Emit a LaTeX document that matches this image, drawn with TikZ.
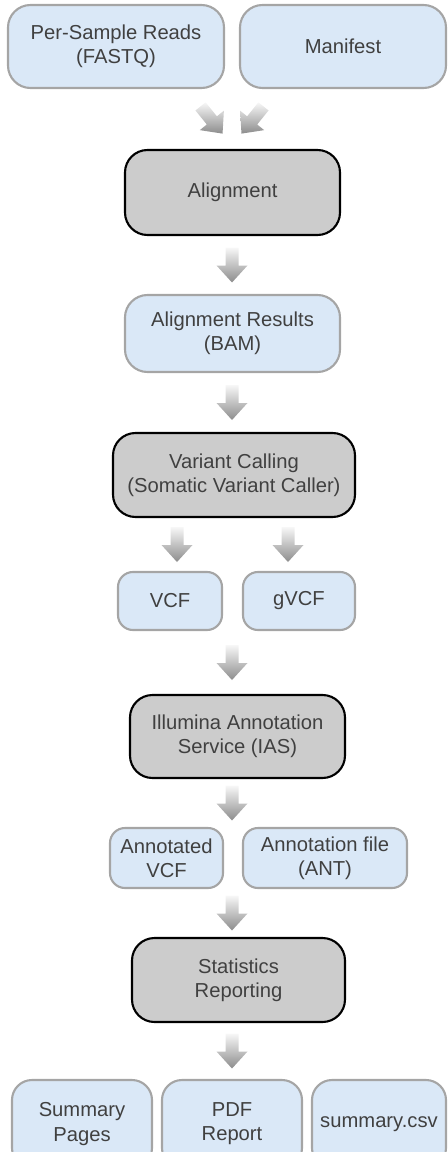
\documentclass[tikz,border=0pt]{standalone}
\usepackage{fontspec}
\setmainfont{Liberation Sans}
\usetikzlibrary{calc}
\definecolor{filefill}{RGB}{218,232,247}
\definecolor{filedraw}{RGB}{165,165,165}
\definecolor{stepfill}{RGB}{204,204,204}
\definecolor{labeltext}{RGB}{64,64,64}
\tikzset{
  filebox/.style={draw=filedraw, fill=filefill, line width=1.2pt, rounded corners=0.45cm,
    align=center, text=labeltext, font=\fontsize{11.5}{13.8}\selectfont, inner sep=2pt},
  smallfile/.style={filebox, rounded corners=0.3cm},
  stepbox/.style={filebox, draw=black, fill=stepfill},
  flowshade/.style={top color=black!3, bottom color=black!45},
}
\newcommand{\flowarrow}[2]{%
  \coordinate (fa-a) at #1;
  \coordinate (fa-b) at #2;
  \coordinate (fa-m) at ($(fa-a)!0.5!(fa-b)$);
  \coordinate (fa-s) at ($(fa-m)!0.35cm!(fa-a)$);
  \coordinate (fa-e) at ($(fa-m)!0.35cm!(fa-b)$);
  \coordinate (fa-n) at ($(fa-e)!0.34cm!(fa-s)$);
  \shade[flowshade] ($(fa-s)!0.13cm!90:(fa-e)$) -- ($(fa-n)!0.13cm!-90:(fa-s)$)
    -- ($(fa-n)!0.31cm!-90:(fa-s)$) -- (fa-e) -- ($(fa-n)!0.31cm!90:(fa-s)$)
    -- ($(fa-n)!0.13cm!90:(fa-s)$) -- ($(fa-s)!0.13cm!-90:(fa-e)$) -- cycle;}
\begin{document}
\begin{tikzpicture}
  \useasboundingbox (0,0) rectangle (8.94,-23.04);
  \node[filebox, minimum width=4.32cm, minimum height=1.66cm] (reads) at (2.32,-0.93) {Per-Sample Reads\\(FASTQ)};
  \node[filebox, minimum width=4.12cm, minimum height=1.66cm] (manifest) at (6.86,-0.93) {Manifest};
  \node[stepbox, minimum width=4.30cm, minimum height=1.70cm] (align) at (4.65,-3.85) {Alignment};
  \node[filebox, minimum width=4.30cm, minimum height=1.54cm] (bam) at (4.65,-6.67) {Alignment Results\\(BAM)};
  \node[stepbox, minimum width=4.84cm, minimum height=1.68cm] (variant) at (4.68,-9.50) {Variant Calling\\(Somatic Variant Caller)};
  \node[smallfile, minimum width=2.08cm, minimum height=1.16cm] (vcf) at (3.40,-12.02) {VCF};
  \node[smallfile, minimum width=2.24cm, minimum height=1.16cm] (gvcf) at (5.98,-12.02) {gVCF};
  \node[stepbox, minimum width=4.30cm, minimum height=1.66cm] (ias) at (4.75,-14.73) {Illumina Annotation\\Service (IAS)};
  \node[smallfile, minimum width=2.26cm, minimum height=1.20cm] (annvcf) at (3.33,-17.16) {Annotated\\VCF};
  \node[smallfile, minimum width=3.28cm, minimum height=1.20cm] (ant) at (6.50,-17.16) {Annotation file\\(ANT)};
  \node[stepbox, minimum width=4.26cm, minimum height=1.68cm] (stats) at (4.77,-19.60) {Statistics\\Reporting};
  \node[filebox, rounded corners=0.4cm, minimum width=2.80cm, minimum height=1.76cm] (pages) at (1.64,-22.48) {Summary\\Pages};
  \node[filebox, rounded corners=0.4cm, minimum width=2.80cm, minimum height=1.76cm] (pdf) at (4.64,-22.48) {PDF\\Report};
  \node[filebox, rounded corners=0.4cm, minimum width=2.68cm, minimum height=1.76cm] (csv) at (7.58,-22.48) {summary.csv};

  \coordinate (spine) at (4.64,0);
  \flowarrow{($(reads.south east)+(-0.48,-0.36)$)}{($(align.north)+(-0.21,0.32)$)}
  \flowarrow{($(manifest.south west)+(0.48,-0.36)$)}{($(align.north)+(0.19,0.32)$)}
  \flowarrow{(align.south -| spine)}{(bam.north -| spine)}
  \flowarrow{(bam.south -| spine)}{(variant.north -| spine)}
  \flowarrow{($(variant.south -| vcf.north)+(0.14,0)$)}{($(vcf.north)+(0.14,0)$)}
  \flowarrow{($(variant.south -| gvcf.north)+(-0.22,0)$)}{($(gvcf.north)+(-0.22,0)$)}
  \flowarrow{(vcf.south -| spine)}{(ias.north -| spine)}
  \flowarrow{(ias.south -| spine)}{(annvcf.north -| spine)}
  \flowarrow{(annvcf.south -| spine)}{(stats.north -| spine)}
  \flowarrow{(stats.south -| spine)}{(pdf.north -| spine)}
\end{tikzpicture}
\end{document}
